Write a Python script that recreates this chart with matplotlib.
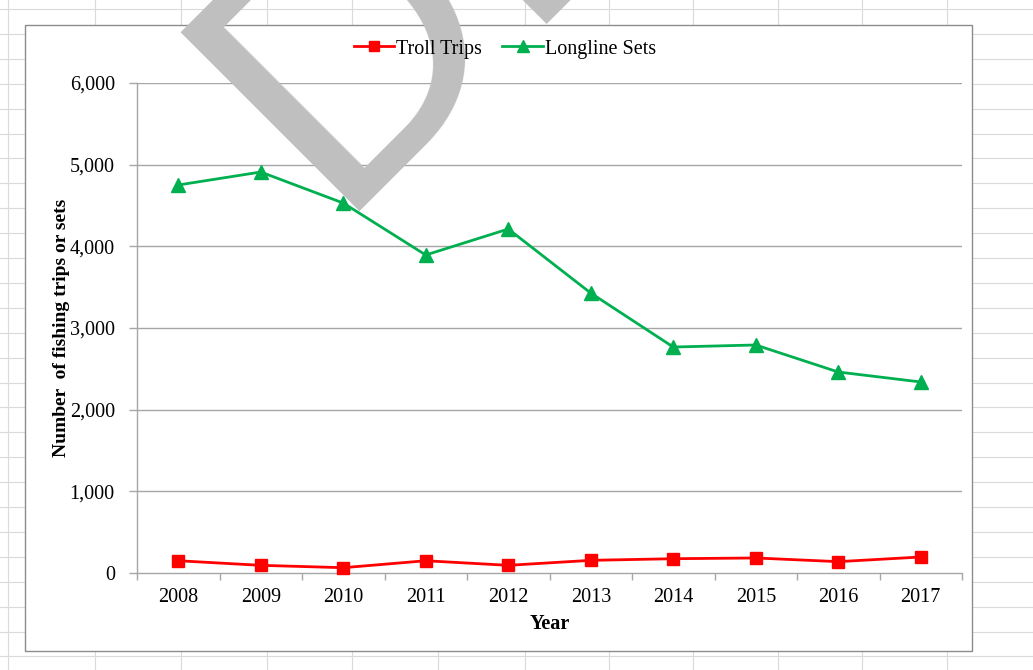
import numpy as np
import matplotlib
matplotlib.use("Agg")
import matplotlib.pyplot as plt
from matplotlib.patches import Rectangle
from matplotlib.ticker import FuncFormatter

# data
years = ["2008", "2009", "2010", "2011", "2012", "2013", "2014", "2015", "2016", "2017"]
troll_trips = [150, 94, 65, 150, 94, 155, 175, 184, 139, 196]
longline_sets = [4751, 4910, 4530, 3894, 4212, 3428, 2767, 2792, 2461, 2339]

W, H = 1033, 670
plt.rcParams["font.family"] = ["Liberation Serif", "DejaVu Serif"]

fig = plt.figure(figsize=(W / 100, H / 100), dpi=100)

# spreadsheet background (pixel coords)
bg = fig.add_axes([0, 0, 1, 1], zorder=-5)
bg.set_xlim(0, W)
bg.set_ylim(H, 0)
bg.axis("off")
grid_c = "#dadada"
for x in [8, 95, 181, 267, 352, 438, 525, 609, 693, 778, 862, 947]:
    bg.plot([x, x], [0, H], color=grid_c, lw=0.8, zorder=1)
for y in np.arange(9, H, 24.9):
    bg.plot([0, W], [y, y], color=grid_c, lw=0.8, zorder=1)
bg.add_patch(Rectangle((25, 25), 947, 626, facecolor="white",
                       edgecolor="#8c8c8c", lw=1.0, zorder=3))

# main chart
ax = fig.add_axes([137 / W, (H - 573) / H, (962 - 137) / W, (573 - 83) / H])
ax.patch.set_alpha(0)
x = np.arange(len(years))
ax.plot(x, troll_trips, color="#ff0000", lw=2.0, marker="s", ms=9,
        label="Troll Trips", zorder=4, clip_on=False)
ax.plot(x, longline_sets, color="#00b050", lw=2.0, marker="^", ms=9.5,
        label="Longline Sets", zorder=4, clip_on=False)

ax.set_xlim(-0.5, len(years) - 0.5)
ax.set_ylim(0, 6000)
ax.set_yticks(np.arange(0, 6001, 1000))
ax.yaxis.set_major_formatter(FuncFormatter(lambda v, p: f"{int(v):,}"))
for v in np.arange(1000, 6001, 1000):
    ax.axhline(v, color="#a6a6a6", lw=1.0, zorder=0.5)

ax.set_xticks(x)
ax.set_xticklabels(years)
ax.set_xticks(np.arange(-0.5, len(years)), minor=True)
ax.tick_params(axis="x", which="major", length=0, pad=11, labelsize=14.5)
ax.tick_params(axis="x", which="minor", length=5, width=1, color="#a6a6a6")
ax.tick_params(axis="y", length=6, width=1, color="#a6a6a6", pad=10, labelsize=14.5)

for s in ["top", "right"]:
    ax.spines[s].set_visible(False)
for s in ["left", "bottom"]:
    ax.spines[s].set_color("#a6a6a6")
    ax.spines[s].set_linewidth(1.0)

ax.set_xlabel("Year", fontsize=14.5, fontweight="bold", labelpad=5)
ax.set_ylabel("Number  of fishing trips or sets", fontsize=14, fontweight="bold", labelpad=0)

leg = ax.legend(loc="center", bbox_to_anchor=(505 / W, (H - 49) / H),
                bbox_transform=fig.transFigure, ncol=2, frameon=False,
                fontsize=14.5, handlelength=2.0, handletextpad=0.1,
                columnspacing=1.0, markerscale=0.85)

# watermark
ax.text(0.234, 0.739, "DRAFT", transform=ax.transAxes, rotation=45,
        rotation_mode="anchor", ha="left", va="baseline",
        fontsize=265, color="#bfbfbf", family="Liberation Sans",
        zorder=1.5, clip_on=False)

fig.savefig("out.png", dpi=100)
